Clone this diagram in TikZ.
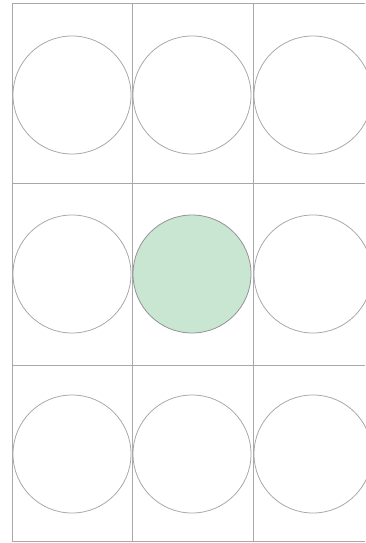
\documentclass[tikz,border=0pt]{standalone}
\usetikzlibrary{positioning}
\definecolor{gridgray}{HTML}{A8A8A8}
\definecolor{mint}{HTML}{C9E6D3}
\tikzset{
  gridline/.style={draw=gridgray, line width=1pt},
  disc/.style={circle, draw=gridgray, line width=0.8pt, minimum size=118pt,
               inner sep=0pt},
  picked/.style={fill=mint, draw=gray!85},
}

\begin{document}
\begin{tikzpicture}[x=1pt, y=-1pt]
    \useasboundingbox (0,0) rectangle (365,543);
    % cells
    \draw[gridline] (365,4) -- (12,4) -- (12,541) -- (365,541);
    \foreach \x in {132,253}
      \draw[gridline] (\x,4) -- (\x,541);
    \foreach \y in {183,365}
      \draw[gridline] (12,\y) -- (365,\y);
    % discs, the middle one filled
    \foreach \r/\y in {1/95,2/274,3/454}
      \foreach \c/\x in {1/72,2/192,3/313}{
        \ifnum\r\c=22
          \node[disc, picked] (d\r\c) at (\x,\y) {};
        \else
          \node[disc] (d\r\c) at (\x,\y) {};
        \fi
      }
  \end{tikzpicture}
\end{document}
